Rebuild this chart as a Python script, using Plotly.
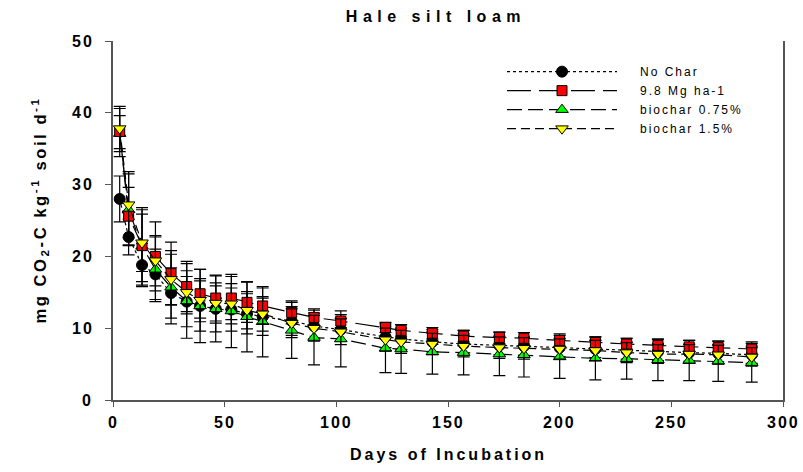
import plotly.graph_objects as go

days = [3, 7, 13, 19, 26, 33, 39, 46, 53, 60, 67, 80, 90, 102, 122, 129, 143, 157, 173, 184, 200, 216, 230, 244, 258, 271, 286]

no_char = [28.0, 22.7, 18.8, 17.5, 14.9, 13.7, 13.1, 12.7, 12.6, 12.0, 11.6, 11.0, 10.3, 9.8, 8.8, 8.5, 8.1, 7.8, 7.6, 7.5, 7.3, 7.1, 6.9, 6.7, 6.6, 6.5, 6.3]
no_char_err = [3.2, 2.5, 3.0, 3.5, 3.5, 3.5, 3.5, 3.2, 3.0, 2.8, 2.6, 2.0, 1.8, 1.6, 1.5, 1.5, 1.4, 1.4, 1.3, 1.3, 1.3, 1.2, 1.2, 1.2, 1.2, 1.2, 1.2]

mg98 = [37.4, 25.6, 21.5, 20.0, 17.6, 15.8, 14.8, 14.2, 14.2, 13.6, 13.1, 12.2, 11.5, 11.0, 10.1, 9.7, 9.3, 8.9, 8.7, 8.6, 8.3, 8.0, 7.8, 7.6, 7.4, 7.3, 7.1]
mg98_err = [3.5, 4.0, 5.0, 4.8, 4.4, 3.5, 3.4, 3.2, 3.0, 2.8, 2.5, 1.6, 1.2, 0.9, 0.7, 0.8, 0.8, 0.8, 0.8, 0.8, 0.9, 0.8, 0.8, 0.8, 0.9, 0.9, 1.0]

bc075 = [37.1, 26.5, 21.4, 18.2, 15.7, 13.8, 13.1, 12.7, 12.4, 11.6, 10.9, 9.7, 8.7, 8.5, 7.2, 7.1, 6.7, 6.6, 6.4, 6.3, 6.0, 5.8, 5.75, 5.6, 5.5, 5.4, 5.2]
bc075_err = [2.5, 5.0, 5.4, 4.5, 5.1, 5.2, 5.1, 4.6, 5.1, 4.9, 4.9, 3.9, 3.8, 3.9, 3.4, 3.4, 3.1, 3.1, 3.0, 3.1, 3.0, 3.0, 2.85, 2.9, 2.8, 2.8, 2.7]

bc15 = [37.8, 27.2, 21.9, 19.4, 16.8, 15.0, 13.9, 13.5, 13.4, 12.5, 12.0, 10.7, 10.0, 9.5, 8.4, 8.1, 7.8, 7.5, 7.3, 7.2, 7.1, 6.9, 6.6, 6.4, 6.4, 6.3, 6.0]
bc15_err = [2.8, 4.6, 4.0, 3.5, 3.5, 3.0, 3.0, 2.8, 2.8, 2.6, 2.4, 2.0, 1.8, 1.8, 1.6, 1.6, 1.5, 1.5, 1.5, 1.5, 1.4, 1.4, 1.4, 1.3, 1.3, 1.3, 1.3]

series_names = ["No Char", "9.8 Mg ha-1", "biochar 0.75%", "biochar 1.5%"]
x_ticks = [0, 50, 100, 150, 200, 250, 300]
y_ticks = [0, 10, 20, 30, 40, 50]
x_title = "Days of Incubation"
y_title = "mg CO<sub>2</sub>-C kg<sup>-1</sup> soil d<sup>-1</sup>"
chart_title = "Hale silt loam"

FONT = "Liberation Sans, Arial, sans-serif"

fig = go.Figure()

def add(name, y, err, symbol, color, dash, rank, size):
    fig.add_trace(go.Scatter(
        x=days, y=y, name=name, mode="lines+markers", legendrank=rank,
        line=dict(color="black", width=1.2, dash=dash),
        marker=dict(symbol=symbol, size=size, color=color,
                    line=dict(color="black", width=1)),
        error_y=dict(type="data", array=err, visible=True, color="black",
                     thickness=1.2, width=6),
    ))

add(series_names[0], no_char, no_char_err, "circle", "black", "dot", 1, 11)
add(series_names[2], bc075, bc075_err, "triangle-up", "#00ff00", "15px,6px", 3, 11)
add(series_names[1], mg98, mg98_err, "square", "#ff0000", "24px,8px", 2, 10)
add(series_names[3], bc15, bc15_err, "triangle-down", "#ffff00", "9px,5px", 4, 11)

tick_font = dict(size=16, family=FONT, color="black", weight="bold")
annotations = []
for v in y_ticks:
    annotations.append(dict(text="<b>%d</b>" % v, x=0, xref="paper", y=v, yref="y",
                            xanchor="right", yanchor="middle", xshift=-19,
                            showarrow=False, font=tick_font))
for v in x_ticks:
    annotations.append(dict(text="<b>%d</b>" % v, x=v, xref="x", y=0, yref="paper",
                            xanchor="center", yanchor="middle", yshift=-22,
                            showarrow=False, font=tick_font))
annotations.append(dict(text="<b>%s</b>" % x_title, x=0.5, xref="paper",
                        y=-(455 - 400) / 359, yref="paper", xanchor="center", yanchor="middle",
                        showarrow=False, font=dict(size=16, family=FONT, color="black")))
annotations.append(dict(text="<b>%s</b>" % y_title, x=-(113 - 40) / 670, xref="paper",
                        y=(400 - 210) / 359, yref="paper", xanchor="center", yanchor="middle",
                        textangle=-90, showarrow=False,
                        font=dict(size=16.5, family=FONT, color="black")))

fig.update_layout(
    width=803, height=472,
    margin=dict(l=113, r=20, t=41, b=72),
    paper_bgcolor="white", plot_bgcolor="white",
    font=dict(family=FONT, color="black"),
    title=dict(text="<b>%s</b>" % chart_title, x=0.482, xref="paper", xanchor="center",
               y=0.965, yref="container", yanchor="middle",
               font=dict(size=16, family=FONT)),
    showlegend=True,
    legend=dict(x=(502 - 113) / 670, y=0.955, xanchor="left", yanchor="top",
                bgcolor="rgba(0,0,0,0)", font=dict(size=12, family=FONT),
                itemwidth=110, tracegroupgap=0, traceorder="normal"),
    xaxis=dict(range=[0, 300], tickvals=x_ticks, ticks="outside", ticklen=5,
               tickcolor="#555", linecolor="#555", linewidth=1.5, showgrid=False,
               zeroline=False, showline=True, mirror=False, showticklabels=False),
    yaxis=dict(range=[0, 50], tickvals=y_ticks, ticks="outside", ticklen=6,
               tickcolor="#555", linecolor="#555", linewidth=1.5, showgrid=False,
               zeroline=False, showline=True, mirror=True, showticklabels=False),
    annotations=annotations,
)

n_ticks = len(y_ticks) + len(x_ticks)
post = """
var gd = document.getElementById('{plot_id}');
var NT = %d;
function fix(){
  document.querySelectorAll('.gtitle').forEach(function(e){e.style.letterSpacing='5.5px';});
  var anns = document.querySelectorAll('.annotation-text');
  anns.forEach(function(e, i){
    if (i < NT) e.style.letterSpacing = '2px';
    else if (i === NT) e.style.letterSpacing = '3px';
    else e.style.letterSpacing = '2.6px';
  });
  document.querySelectorAll('.legend .scrollbox').forEach(function(e){e.removeAttribute('clip-path');});
  document.querySelectorAll('.legendtext').forEach(function(e){
    e.style.letterSpacing='2px';
    var cur = e.getAttribute('x');
    if (e.__shifted !== cur) {
      var nx = String(parseFloat(cur) + 18);
      e.setAttribute('x', nx);
      e.__shifted = nx;
    }
  });
}
fix();
if (gd && gd.on) { gd.on('plotly_afterplot', fix); }
setTimeout(fix, 50);
setTimeout(fix, 300);
""" % n_ticks

fig.write_html("out.html", post_script=post)
